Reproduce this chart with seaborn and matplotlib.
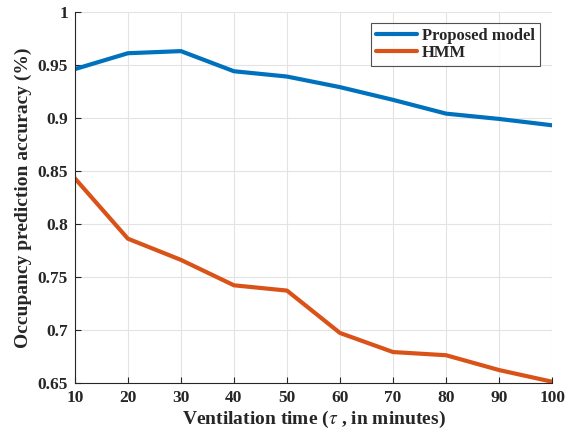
import matplotlib
matplotlib.use("Agg")
import matplotlib.pyplot as plt
import seaborn as sns
import pandas as pd

# Valores
tiempos_ventilacion = [10, 20, 30, 40, 50, 60, 70, 80, 90, 100]
precision_propuesto = [0.946, 0.961, 0.963, 0.944, 0.939, 0.929, 0.917, 0.904, 0.899, 0.893]
precision_hmm = [0.843, 0.786, 0.766, 0.742, 0.737, 0.697, 0.679, 0.676, 0.662, 0.651]
etiquetas_series = ["Proposed model", "HMM"]
colores_series = ["#0072BD", "#D95319"]

datos = pd.DataFrame({
    "tiempo": tiempos_ventilacion * 2,
    "precision": precision_propuesto + precision_hmm,
    "modelo": [etiquetas_series[0]] * len(tiempos_ventilacion) + [etiquetas_series[1]] * len(tiempos_ventilacion),
})

sns.set_style("whitegrid")
plt.rcParams["font.family"] = ["Liberation Serif", "DejaVu Serif"]
plt.rcParams["mathtext.fontset"] = "stix"

figura = plt.figure(figsize=(5.8, 4.41), dpi=100)
area_dibujo = figura.add_axes([0.129, 0.132, 0.823, 0.841])

sns.lineplot(data=datos, x="tiempo", y="precision", hue="modelo",
             palette=colores_series, linewidth=3.0, ax=area_dibujo)

area_dibujo.set_xlim(10, 100)
area_dibujo.set_ylim(0.65, 1.0)
area_dibujo.set_xticks(tiempos_ventilacion)
ticks_y = [0.65, 0.7, 0.75, 0.8, 0.85, 0.9, 0.95, 1.0]
area_dibujo.set_yticks(ticks_y)
area_dibujo.set_yticklabels([f"{v:g}" for v in ticks_y])

area_dibujo.grid(True, color="#e3e3e3", linewidth=0.8)
for lado in ["top", "right"]:
    area_dibujo.spines[lado].set_visible(False)
for lado in ["left", "bottom"]:
    area_dibujo.spines[lado].set_color("#262626")
    area_dibujo.spines[lado].set_linewidth(0.8)

area_dibujo.tick_params(direction="in", length=4, color="#262626",
                        labelsize=12.5, pad=5, left=True, bottom=True)
for etiqueta in area_dibujo.get_xticklabels() + area_dibujo.get_yticklabels():
    etiqueta.set_fontweight("bold")

area_dibujo.set_xlabel(r"Ventilation time ($\tau$ , in minutes)", fontsize=14,
                       fontweight="bold", labelpad=2)
area_dibujo.set_ylabel("Occupancy prediction accuracy (%)", fontsize=14,
                       fontweight="bold", labelpad=4)

leyenda = area_dibujo.legend(loc="upper right", bbox_to_anchor=(0.975, 0.971),
                             frameon=True, fancybox=False, fontsize=12,
                             handlelength=2.5, borderaxespad=0.0,
                             handletextpad=0.3, borderpad=0.3, labelspacing=0.1)
leyenda.get_frame().set_edgecolor("#262626")
leyenda.get_frame().set_linewidth(0.8)
for texto in leyenda.get_texts():
    texto.set_fontweight("bold")

figura.savefig("out.png", dpi=100)
plt.close(figura)
